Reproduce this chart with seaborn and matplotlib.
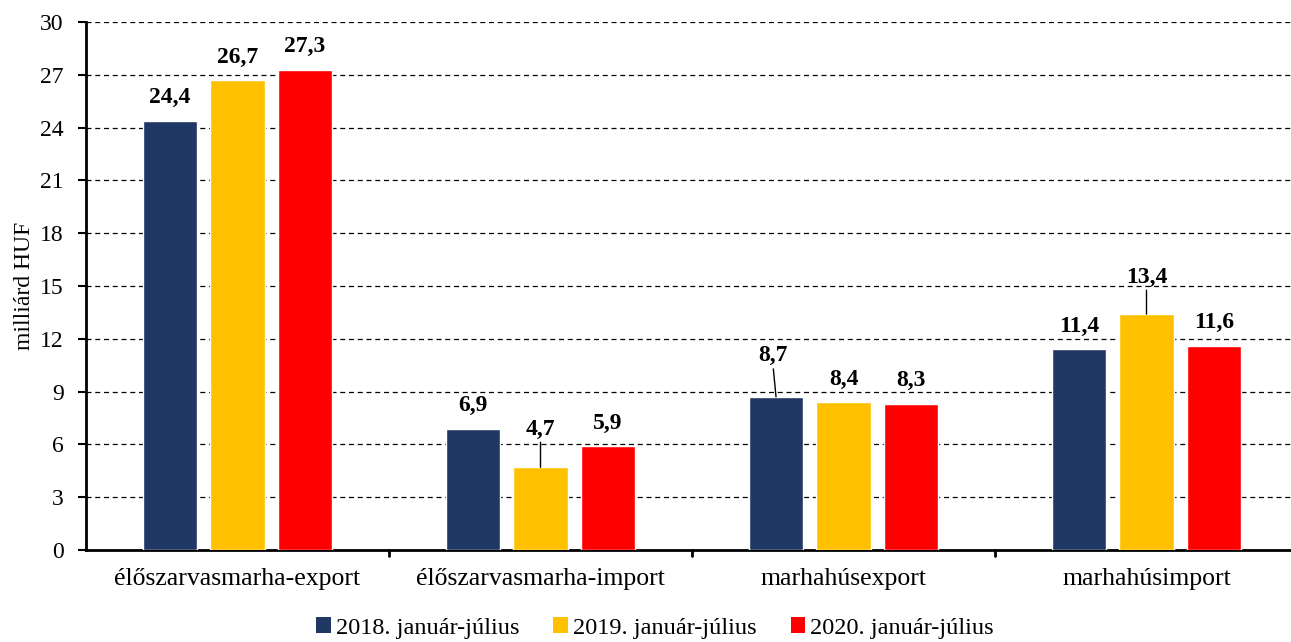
import matplotlib
matplotlib.use("Agg")
import matplotlib.pyplot as plt
from matplotlib.patches import Patch
import seaborn as sns
import pandas as pd

categories = ['élőszarvasmarha-export', 'élőszarvasmarha-import',
              'marhahúsexport', 'marhahúsimport']
periods = ['2018. január-július', '2019. január-július', '2020. január-július']
values_2018 = [24.4, 6.9, 8.7, 11.4]
values_2019 = [26.7, 4.7, 8.4, 13.4]
values_2020 = [27.3, 5.9, 8.3, 11.6]
colors = ['#203864', '#FFC000', '#FF0000']

# label offsets above bar top in pixels (dx, dy); these ones get a leader line
label_offsets = {
    (1, 1): (0, 38),
    (0, 2): (-3, 41),
    (1, 3): (0, 37),
}

df = pd.DataFrame({
    'kategoria': categories * 3,
    'idoszak': [p for p in periods for _ in categories],
    'ertek': values_2018 + values_2019 + values_2020,
})

sns.set_style("white")
plt.rcParams['font.family'] = ['Liberation Serif', 'DejaVu Serif']
plt.rcParams['text.color'] = 'black'
plt.rcParams['axes.labelcolor'] = 'black'
plt.rcParams['xtick.color'] = 'black'
plt.rcParams['ytick.color'] = 'black'

fig = plt.figure(figsize=(12.91, 6.42), dpi=100)
ax = fig.add_axes([86 / 1291, 92 / 642, 1205 / 1291, 528 / 642])

sns.barplot(data=df, x='kategoria', y='ertek', hue='idoszak', hue_order=periods,
            palette=colors, width=0.668, gap=0.19, legend=False, ax=ax,
            zorder=3, saturation=1, errorbar=None)

ax.set_ylim(0, 30)
ax.set_xlim(-0.5, -0.5 + 1205 / 303)
ax.set_yticks(range(0, 31, 3))
ax.yaxis.grid(True, linestyle=(0, (4, 3)), color='black', linewidth=0.9, zorder=0)
ax.set_axisbelow(True)

ax.set_xticks([0, 1, 2, 3])
ax.set_xticklabels(categories, fontsize=18.5)
ax.tick_params(axis='x', length=0, pad=13)
for b in [0.5, 1.5, 2.5]:
    ax.plot([b, b], [0, -0.012], transform=ax.get_xaxis_transform(),
            color='black', linewidth=2, clip_on=False)
ax.tick_params(axis='y', labelsize=17, length=6, width=1.5, direction='out',
               left=True, pad=10)

for s in ['top', 'right']:
    ax.spines[s].set_visible(False)
for s in ['left', 'bottom']:
    ax.spines[s].set_color('black')
    ax.spines[s].set_linewidth(2)

ax.set_xlabel('')
ax.set_ylabel('milliárd HUF', fontsize=17, labelpad=4)

for hi, cont in enumerate(ax.containers):
    for ci, bar in enumerate(cont):
        h = bar.get_height()
        xc = bar.get_x() + bar.get_width() / 2
        dx, dy = label_offsets.get((hi, ci), (0, 23))
        ax.annotate(f"{h:.1f}".replace('.', ','), (xc, h), xytext=(dx, dy),
                    textcoords='offset pixels', ha='center', va='center',
                    fontsize=17, fontweight='bold', color='black', zorder=5)
        if (hi, ci) in label_offsets:
            ax.annotate('', (xc, h), xytext=(dx * 0.9, dy - 13),
                        textcoords='offset pixels',
                        arrowprops=dict(arrowstyle='-', color='black', lw=1,
                                        shrinkA=0, shrinkB=0), zorder=5)

handles = [Patch(facecolor=c, edgecolor='none') for c in colors]
fig.legend(handles, periods, loc='center', bbox_to_anchor=(655 / 1291, 1 - 628 / 642),
           ncol=3, frameon=False, fontsize=17.5, handlelength=0.6, handleheight=0.6,
           handletextpad=0.2, columnspacing=1.4, borderaxespad=0)

fig.savefig('out.png', dpi=100)
